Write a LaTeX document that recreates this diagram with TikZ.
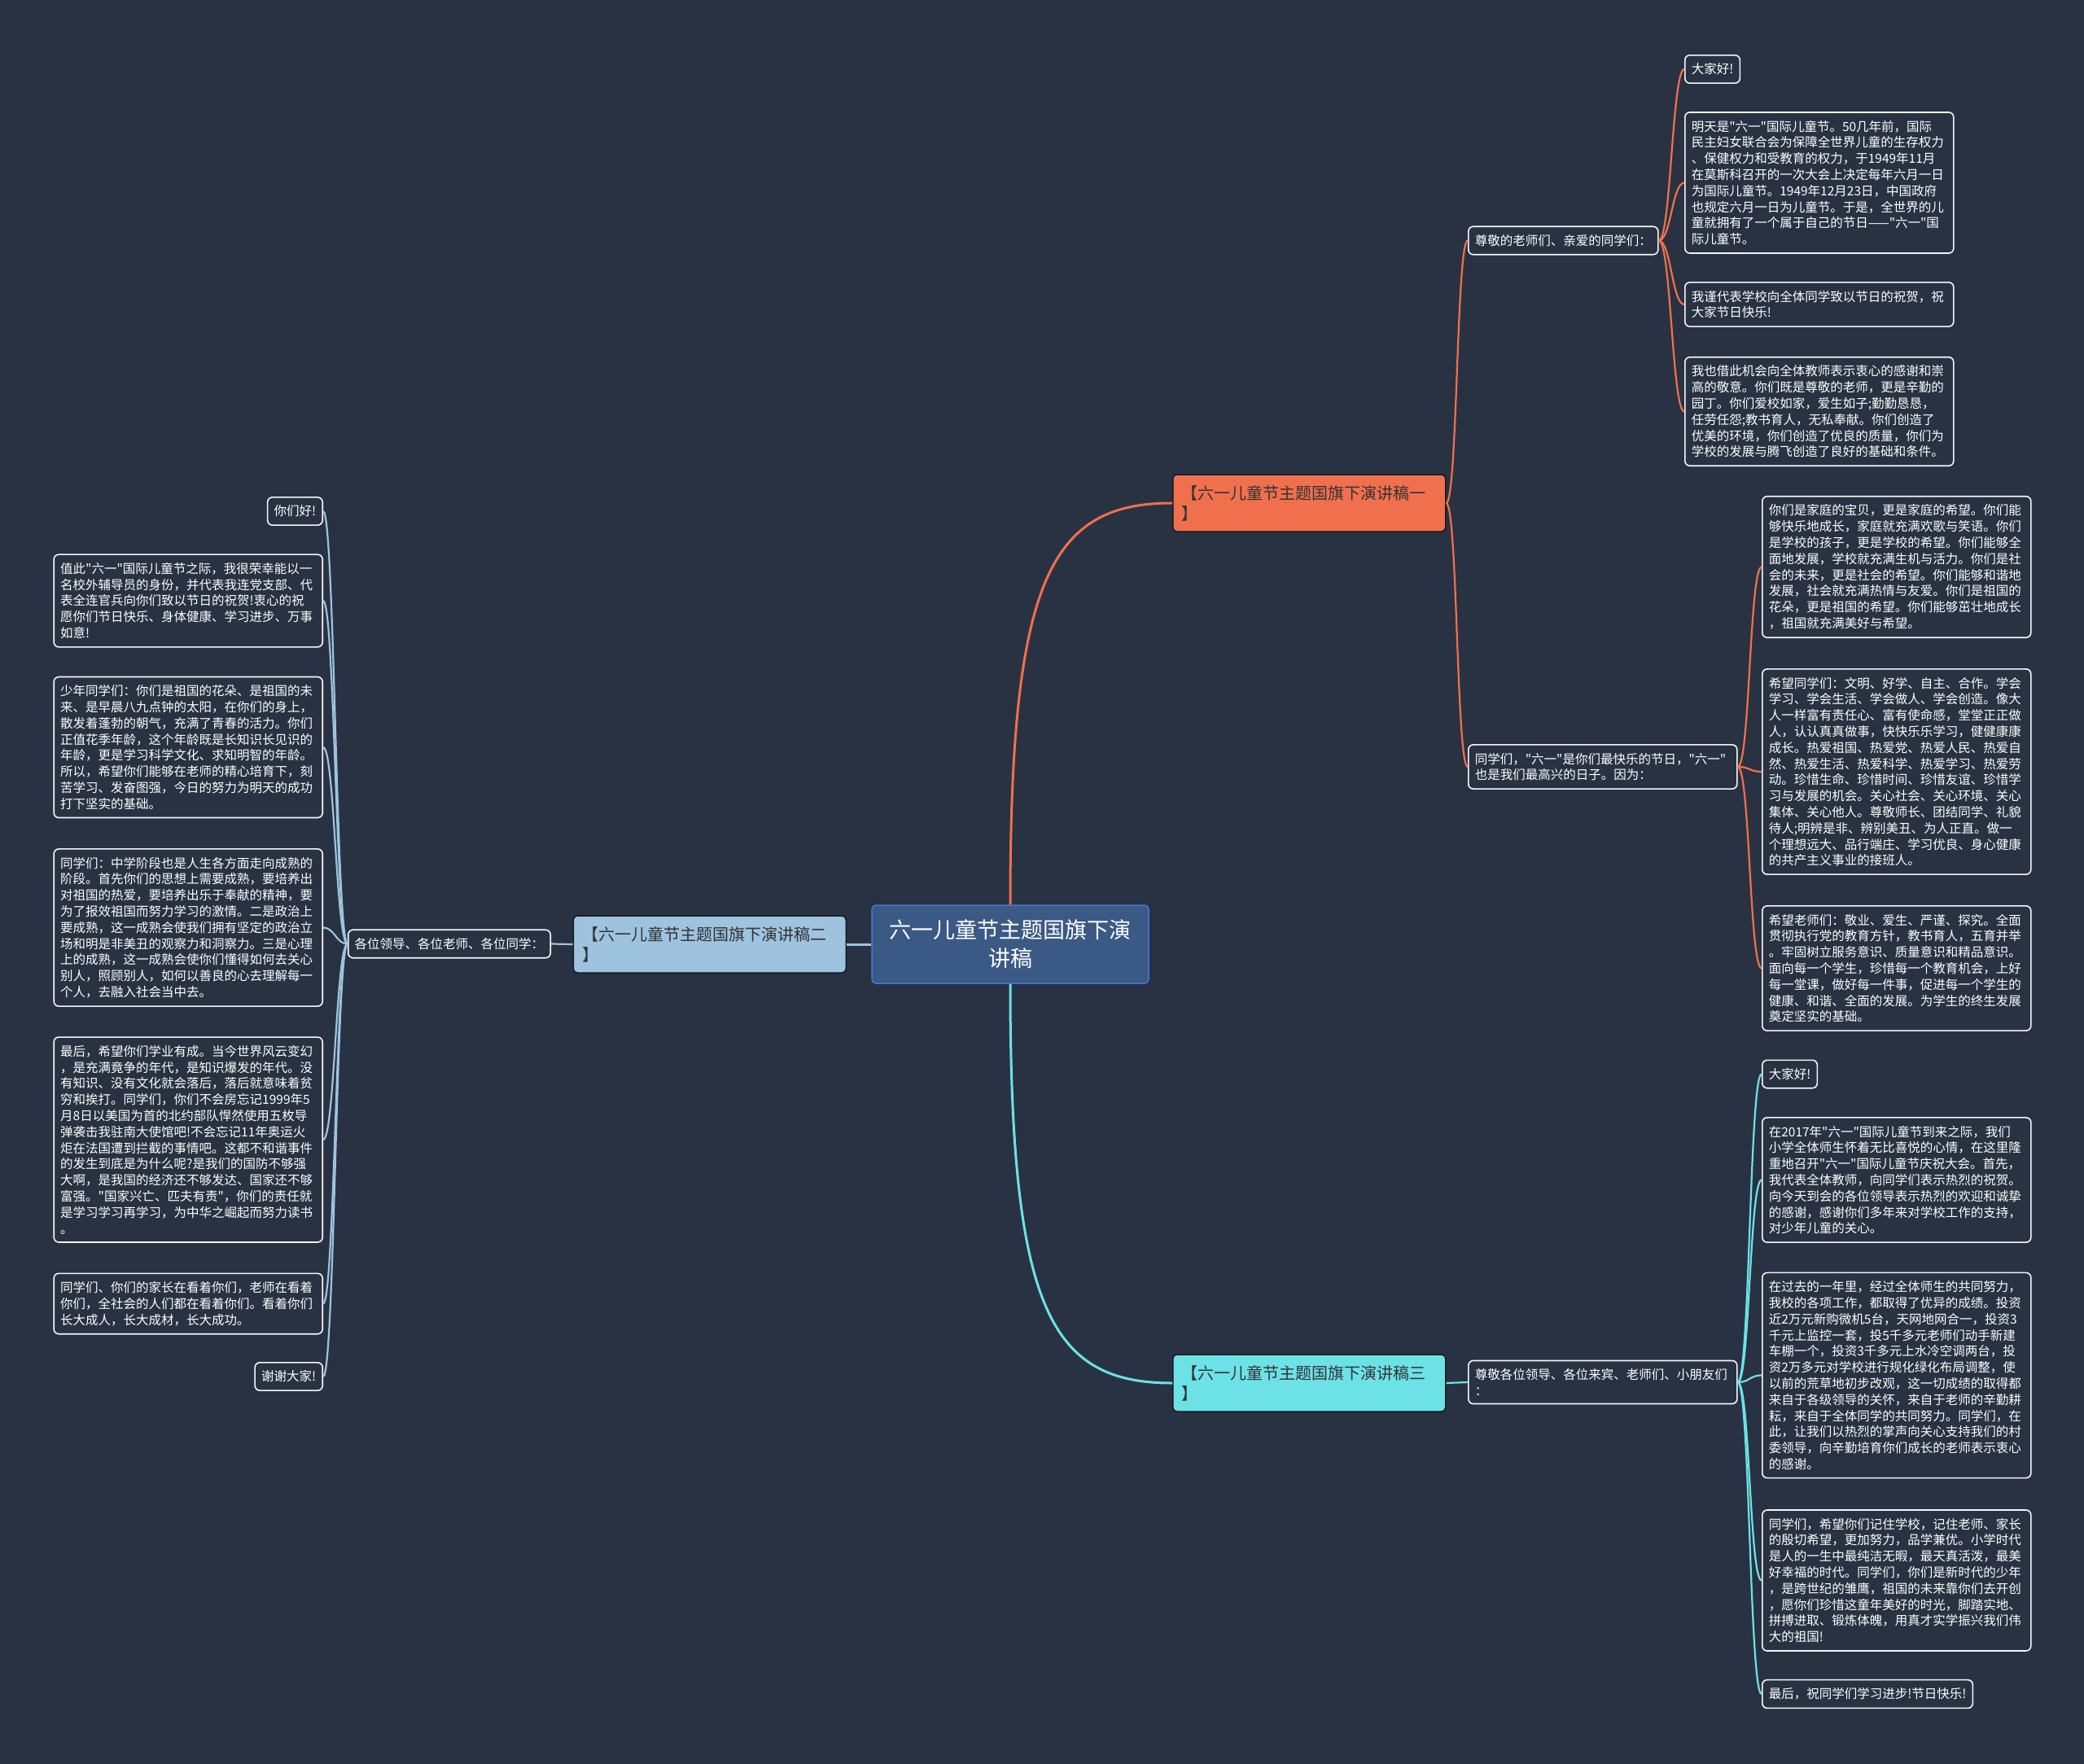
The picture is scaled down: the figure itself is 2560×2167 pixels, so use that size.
\documentclass[tikz,border=0pt]{standalone}
\usepackage{fontspec}
\setmainfont{Noto Sans CJK SC}[Ligatures=TeXOff]
\definecolor{bg}{RGB}{41,50,66}
\definecolor{orangeb}{RGB}{240,112,78}
\definecolor{blueb}{RGB}{157,195,223}
\definecolor{cyanb}{RGB}{108,226,231}
\definecolor{ctrfill}{RGB}{59,89,133}
\definecolor{ctrline}{RGB}{72,118,214}
\hyphenpenalty=10000
\exhyphenpenalty=10000

\begin{document}
\begin{tikzpicture}[x=1pt,y=-1pt]
  \tikzstyle{centre} = [rectangle, rounded corners=5pt, draw=ctrline, line width=1.5pt, fill=ctrfill, text=white, text width=300pt, minimum width=340pt, minimum height=96pt, align=center, font=\fontsize{27}{35}\selectfont]
  \tikzstyle{branch} = [rectangle, rounded corners=5pt, draw=bg!50!black, line width=1.5pt, text=black!80, text width=313pt, inner xsep=11pt, minimum height=70pt, align=left, font=\fontsize{20}{25}\selectfont]
  \tikzstyle{subtopic} = [rectangle, rounded corners=6pt, draw=white!92!gray, line width=1.6pt, fill=bg, text=white, inner xsep=8pt, inner ysep=10pt, align=left, font=\fontsize{15.5}{19.8}\selectfont]
  \tikzstyle{wide} = [text width=314pt]
  \tikzstyle{thickconn} = [line width=3pt]
  \tikzstyle{conn} = [line width=2.2pt]

  \useasboundingbox (0,0) rectangle (2560,2167);
  \fill [bg] (0,0) rectangle (2560,2167);

  \node (ctr) [centre] at (1241,1160) {六一儿童节主题国旗下演\\讲稿};

  % first speech
  \node (b1) [branch, fill=orangeb, anchor=west] at (1440,618) {【六一儿童节主题国旗下演讲稿一\\】};
  \draw [thickconn, orangeb] (ctr.north) .. controls +(0,-400) and +(-150,0) .. (b1.west);
  \node (s1a) [subtopic, anchor=west] at (1803,295.5) {尊敬的老师们、亲爱的同学们：};
  \node (s1b) [subtopic, wide, anchor=west] at (1803,942) {同学们，"六一"是你们最快乐的节日，"六一"\\也是我们最高兴的日子。因为：};
  \draw [conn, orangeb] (b1.east) .. controls +(14,0) and +(-14,0) .. (s1a.west);
  \draw [conn, orangeb] (b1.east) .. controls +(14,0) and +(-14,0) .. (s1b.west);

  \node (l1a) [subtopic, anchor=west] at (2069,85) {大家好!};
  \node (l1b) [subtopic, wide, anchor=west] at (2069,224.5) {明天是"六一"国际儿童节。50几年前，国际\\民主妇女联合会为保障全世界儿童的生存权力\\、保健权力和受教育的权力，于1949年11月\\在莫斯科召开的一次大会上决定每年六月一日\\为国际儿童节。1949年12月23日，中国政府\\也规定六月一日为儿童节。于是，全世界的儿\\童就拥有了一个属于自己的节日——"六一"国\\际儿童节。};
  \node (l1c) [subtopic, wide, anchor=west] at (2069,374) {我谨代表学校向全体同学致以节日的祝贺，祝\\大家节日快乐!};
  \node (l1d) [subtopic, wide, anchor=west] at (2069,505.5) {我也借此机会向全体教师表示衷心的感谢和崇\\高的敬意。你们既是尊敬的老师，更是辛勤的\\园丁。你们爱校如家，爱生如子;勤勤恳恳，\\任劳任怨;教书育人，无私奉献。你们创造了\\优美的环境，你们创造了优良的质量，你们为\\学校的发展与腾飞创造了良好的基础和条件。};
  \draw [conn, orangeb] (s1a.east) .. controls +(15,0) and +(-15,0) .. (l1a.west);
  \draw [conn, orangeb] (s1a.east) .. controls +(15,0) and +(-15,0) .. (l1b.west);
  \draw [conn, orangeb] (s1a.east) .. controls +(15,0) and +(-15,0) .. (l1c.west);
  \draw [conn, orangeb] (s1a.east) .. controls +(15,0) and +(-15,0) .. (l1d.west);

  \node (l1e) [subtopic, wide, anchor=west] at (2164,696.5) {你们是家庭的宝贝，更是家庭的希望。你们能\\够快乐地成长，家庭就充满欢歌与笑语。你们\\是学校的孩子，更是学校的希望。你们能够全\\面地发展，学校就充满生机与活力。你们是社\\会的未来，更是社会的希望。你们能够和谐地\\发展，社会就充满热情与友爱。你们是祖国的\\花朵，更是祖国的希望。你们能够茁壮地成长\\，祖国就充满美好与希望。};
  \node (l1f) [subtopic, wide, anchor=west] at (2164,948) {希望同学们：文明、好学、自主、合作。学会\\学习、学会生活、学会做人、学会创造。像大\\人一样富有责任心、富有使命感，堂堂正正做\\人，认认真真做事，快快乐乐学习，健健康康\\成长。热爱祖国、热爱党、热爱人民、热爱自\\然、热爱生活、热爱科学、热爱学习、热爱劳\\动。珍惜生命、珍惜时间、珍惜友谊、珍惜学\\习与发展的机会。关心社会、关心环境、关心\\集体、关心他人。尊敬师长、团结同学、礼貌\\待人;明辨是非、辨别美丑、为人正直。做一\\个理想远大、品行端庄、学习优良、身心健康\\的共产主义事业的接班人。};
  \node (l1g) [subtopic, wide, anchor=west] at (2164,1189.5) {希望老师们：敬业、爱生、严谨、探究。全面\\贯彻执行党的教育方针，教书育人，五育并举\\。牢固树立服务意识、质量意识和精品意识。\\面向每一个学生，珍惜每一个教育机会，上好\\每一堂课，做好每一件事，促进每一个学生的\\健康、和谐、全面的发展。为学生的终生发展\\奠定坚实的基础。};
  \draw [conn, orangeb] (s1b.east) .. controls +(15,0) and +(-15,0) .. (l1e.west);
  \draw [conn, orangeb] (s1b.east) .. controls +(15,0) and +(-15,0) .. (l1f.west);
  \draw [conn, orangeb] (s1b.east) .. controls +(15,0) and +(-15,0) .. (l1g.west);

  % second speech
  \node (b2) [branch, fill=blueb, anchor=east] at (1040,1160) {【六一儿童节主题国旗下演讲稿二\\】};
  \draw [thickconn, blueb] (ctr.west) -- (b2.east);
  \node (s2) [subtopic, anchor=east] at (677,1159.5) {各位领导、各位老师、各位同学：};
  \draw [conn, blueb] (b2.west) -- (s2.east);

  \node (l2a) [subtopic, anchor=east] at (397,628) {你们好!};
  \node (l2b) [subtopic, wide, anchor=east] at (397,738) {值此"六一"国际儿童节之际，我很荣幸能以一\\名校外辅导员的身份，并代表我连党支部、代\\表全连官兵向你们致以节日的祝贺!衷心的祝\\愿你们节日快乐、身体健康、学习进步、万事\\如意!};
  \node (l2c) [subtopic, wide, anchor=east] at (397,918) {少年同学们：你们是祖国的花朵、是祖国的未\\来、是早晨八九点钟的太阳，在你们的身上，\\散发着蓬勃的朝气，充满了青春的活力。你们\\正值花季年龄，这个年龄既是长知识长见识的\\年龄，更是学习科学文化、求知明智的年龄。\\所以，希望你们能够在老师的精心培育下，刻\\苦学习、发奋图强，今日的努力为明天的成功\\打下坚实的基础。};
  \node (l2d) [subtopic, wide, anchor=east] at (397,1139.5) {同学们：中学阶段也是人生各方面走向成熟的\\阶段。首先你们的思想上需要成熟，要培养出\\对祖国的热爱，要培养出乐于奉献的精神，要\\为了报效祖国而努力学习的激情。二是政治上\\要成熟，这一成熟会使我们拥有坚定的政治立\\场和明是非美丑的观察力和洞察力。三是心理\\上的成熟，这一成熟会使你们懂得如何去关心\\别人，照顾别人，如何以善良的心去理解每一\\个人，去融入社会当中去。};
  \node (l2e) [subtopic, wide, anchor=east] at (397,1400) {最后，希望你们学业有成。当今世界风云变幻\\，是充满竟争的年代，是知识爆发的年代。没\\有知识、没有文化就会落后，落后就意味着贫\\穷和挨打。同学们，你们不会房忘记1999年5\\月8日以美国为首的北约部队悍然使用五枚导\\弹袭击我驻南大使馆吧!不会忘记11年奥运火\\炬在法国遭到拦截的事情吧。这都不和谐事件\\的发生到底是为什么呢?是我们的国防不够强\\大啊，是我国的经济还不够发达、国家还不够\\富强。"国家兴亡、匹夫有责"，你们的责任就\\是学习学习再学习，为中华之崛起而努力读书\\。};
  \node (l2f) [subtopic, wide, anchor=east] at (397,1601.5) {同学们、你们的家长在看着你们，老师在看着\\你们，全社会的人们都在看着你们。看着你们\\长大成人，长大成材，长大成功。};
  \node (l2g) [subtopic, anchor=east] at (397,1691) {谢谢大家!};
  \draw [conn, blueb] (s2.west) .. controls +(-14,0) and +(14,0) .. (l2a.east);
  \draw [conn, blueb] (s2.west) .. controls +(-14,0) and +(14,0) .. (l2b.east);
  \draw [conn, blueb] (s2.west) .. controls +(-14,0) and +(14,0) .. (l2c.east);
  \draw [conn, blueb] (s2.west) .. controls +(-14,0) and +(14,0) .. (l2d.east);
  \draw [conn, blueb] (s2.west) .. controls +(-14,0) and +(14,0) .. (l2e.east);
  \draw [conn, blueb] (s2.west) .. controls +(-14,0) and +(14,0) .. (l2f.east);
  \draw [conn, blueb] (s2.west) .. controls +(-14,0) and +(14,0) .. (l2g.east);

  % third speech
  \node (b3) [branch, fill=cyanb, anchor=west] at (1440,1699) {【六一儿童节主题国旗下演讲稿三\\】};
  \draw [thickconn, cyanb] (ctr.south) .. controls +(0,400) and +(-150,0) .. (b3.west);
  \node (s3) [subtopic, wide, anchor=west] at (1803,1698) {尊敬各位领导、各位来宾、老师们、小朋友们\\：};
  \draw [conn, cyanb] (b3.east) -- (s3.west);

  \node (l3a) [subtopic, anchor=west] at (2164,1319.5) {大家好!};
  \node (l3b) [subtopic, wide, anchor=west] at (2164,1449.5) {在2017年"六一"国际儿童节到来之际，我们\\小学全体师生怀着无比喜悦的心情，在这里隆\\重地召开"六一"国际儿童节庆祝大会。首先，\\我代表全体教师，向同学们表示热烈的祝贺。\\向今天到会的各位领导表示热烈的欢迎和诚挚\\的感谢，感谢你们多年来对学校工作的支持，\\对少年儿童的关心。};
  \node (l3c) [subtopic, wide, anchor=west] at (2164,1689.5) {在过去的一年里，经过全体师生的共同努力，\\我校的各项工作，都取得了优异的成绩。投资\\近2万元新购微机5台，天网地网合一，投资3\\千元上监控一套，投5千多元老师们动手新建\\车棚一个，投资3千多元上水冷空调两台，投\\资2万多元对学校进行规化绿化布局调整，使\\以前的荒草地初步改观，这一切成绩的取得都\\来自于各级领导的关怀，来自于老师的辛勤耕\\耘，来自于全体同学的共同努力。同学们，在\\此，让我们以热烈的掌声向关心支持我们的村\\委领导，向辛勤培育你们成长的老师表示衷心\\的感谢。};
  \node (l3d) [subtopic, wide, anchor=west] at (2164,1941.5) {同学们，希望你们记住学校，记住老师、家长\\的殷切希望，更加努力，品学兼优。小学时代\\是人的一生中最纯洁无暇，最天真活泼，最美\\好幸福的时代。同学们，你们是新时代的少年\\，是跨世纪的雏鹰，祖国的未来靠你们去开创\\，愿你们珍惜这童年美好的时光，脚踏实地、\\拼搏进取、锻炼体魄，用真才实学振兴我们伟\\大的祖国!};
  \node (l3e) [subtopic, anchor=west] at (2164,2081) {最后，祝同学们学习进步!节日快乐!};
  \draw [conn, cyanb] (s3.east) .. controls +(15,0) and +(-15,0) .. (l3a.west);
  \draw [conn, cyanb] (s3.east) .. controls +(15,0) and +(-15,0) .. (l3b.west);
  \draw [conn, cyanb] (s3.east) .. controls +(15,0) and +(-15,0) .. (l3c.west);
  \draw [conn, cyanb] (s3.east) .. controls +(15,0) and +(-15,0) .. (l3d.west);
  \draw [conn, cyanb] (s3.east) .. controls +(15,0) and +(-15,0) .. (l3e.west);
\end{tikzpicture}
\end{document}
